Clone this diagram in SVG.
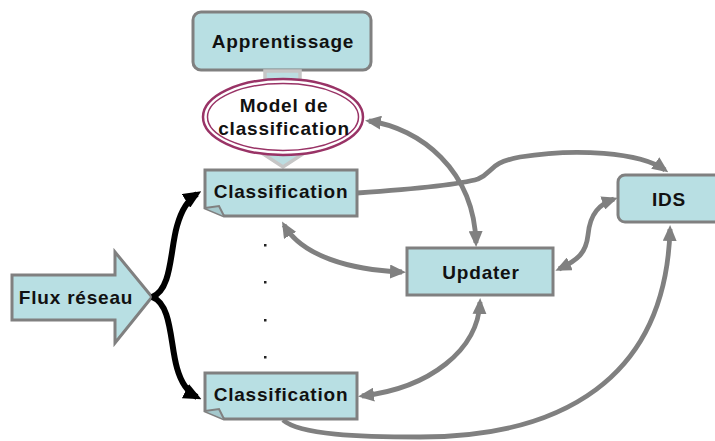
<svg xmlns="http://www.w3.org/2000/svg" width="715" height="441" viewBox="0 0 715 441">
  <defs>
    <marker id="headGray" viewBox="0 0 16 14" markerUnits="userSpaceOnUse" markerWidth="16" markerHeight="14" refX="12" refY="7" orient="auto-start-reverse">
      <path d="M0,0 L16,7 L0,14 Z" fill="#808080"/>
    </marker>
    <marker id="headBlack" viewBox="0 0 18 16" markerUnits="userSpaceOnUse" markerWidth="18" markerHeight="16" refX="13" refY="8" orient="auto">
      <path d="M0,0 L18,8 L0,16 Z" fill="#000"/>
    </marker>
  </defs>
  <style>
    .box { fill: #B8DFE3; stroke: #808080; stroke-width: 3; }
    .lbl { font-family: "Liberation Sans", Arial, sans-serif; font-weight: bold; font-size: 19px; letter-spacing: 0.8px; fill: #111; text-anchor: middle; }
    .conn { fill: none; stroke: #808080; stroke-width: 4.8; }
    .feed { fill: none; stroke: #000; stroke-width: 6; }
    .dot { fill: #222; }
  </style>

  <!-- training box -->
  <g id="apprentissage">
    <rect class="box" x="193" y="12" width="178" height="58" rx="8"/>
    <text class="lbl" x="283" y="48">Apprentissage</text>
  </g>

  <!-- wide arrow from training to the classifier -->
  <g id="model-flow">
    <polygon points="265,71 300,71 300,146 315,146 283,167 251,146 265,146" fill="#BCDDE1" stroke="#C6C6C6" stroke-width="3.5"/>
  </g>

  <!-- classification model -->
  <g id="model">
    <ellipse cx="283" cy="117" rx="80" ry="38" fill="#fff" stroke="#993366" stroke-width="2.5"/>
    <ellipse cx="283" cy="117" rx="75.5" ry="33.5" fill="none" stroke="#993366" stroke-width="1.5"/>
    <text class="lbl" x="284" y="112">Model de</text>
    <text class="lbl" x="284" y="135">classification</text>
  </g>

  <!-- classifiers -->
  <g id="classification-1">
    <path class="box" d="M205,170 H357 V216 H224 L205,208 Z"/>
    <path d="M205,208 L219,206 L224,216" fill="#A5C9CD" stroke="#808080" stroke-width="2"/>
    <text class="lbl" x="281" y="198">Classification</text>
  </g>
  <g id="classification-2">
    <path class="box" d="M205,373 H357 V419 H224 L205,411 Z"/>
    <path d="M205,411 L219,409 L224,419" fill="#A5C9CD" stroke="#808080" stroke-width="2"/>
    <text class="lbl" x="281" y="401">Classification</text>
  </g>

  <!-- ellipsis between classifiers -->
  <g id="ellipsis">
    <rect class="dot" x="264" y="244" width="2.5" height="2.5"/>
    <rect class="dot" x="264" y="281" width="2.5" height="2.5"/>
    <rect class="dot" x="264" y="319" width="2.5" height="2.5"/>
    <rect class="dot" x="264" y="356" width="2.5" height="2.5"/>
  </g>

  <!-- network traffic input -->
  <g id="flux">
    <polygon class="box" points="12,275 115,275 115,252 152,297 115,343 115,320 12,320"/>
    <text class="lbl" x="76" y="304">Flux réseau</text>
  </g>

  <g id="updater">
    <rect class="box" x="407" y="248" width="146" height="47"/>
    <text class="lbl" x="481" y="279">Updater</text>
  </g>

  <g id="ids">
    <rect class="box" x="618" y="175" width="104" height="47" rx="7"/>
    <text class="lbl" x="669" y="206">IDS</text>
  </g>

  <!-- connectors -->
  <g id="connectors">
    <path class="feed" d="M152,297 C172,290 170,250 177,226 C182,208 189,199 197,194" marker-end="url(#headBlack)"/>
    <path class="feed" d="M152,297 C172,304 170,344 177,368 C182,386 189,393 197,397" marker-end="url(#headBlack)"/>

    <path class="conn" d="M357,193 C400,190 455,186 478,179 C494,172 488,163 520,157 C575,148 640,152 665,170" marker-end="url(#headGray)"/>
    <path class="conn" d="M369,121 C420,128 474,170 476,243" marker-start="url(#headGray)" marker-end="url(#headGray)"/>
    <path class="conn" d="M284,225 C302,256 350,270 402,272" marker-start="url(#headGray)" marker-end="url(#headGray)"/>
    <path class="conn" d="M559,269 C578,260 586,253 588,235 C590,213 600,204 614,199" marker-start="url(#headGray)" marker-end="url(#headGray)"/>
    <path class="conn" d="M362,396 C430,388 478,350 480,302" marker-start="url(#headGray)" marker-end="url(#headGray)"/>
    <path class="conn" d="M283,420 C300,435 360,437 420,437 C560,437 666,380 670,229" marker-end="url(#headGray)"/>
  </g>
</svg>
